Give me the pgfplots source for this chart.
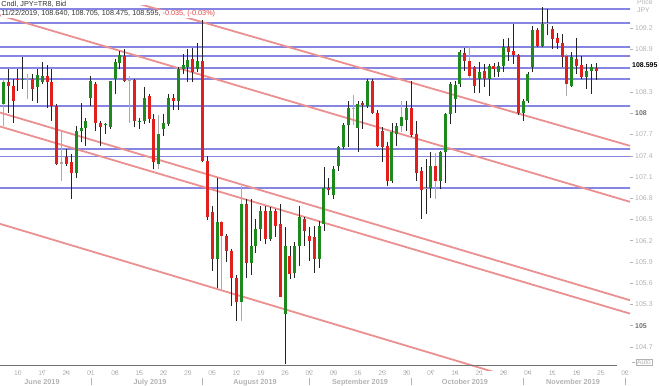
\documentclass[border=0pt]{standalone}
\usepackage{fontspec}
\setmainfont{Liberation Sans}
\usepackage{pgfplots}
\pgfplotsset{compat=1.18}
\usepackage{pgfplotstable}

\definecolor{cup}{HTML}{1E8A1E}
\definecolor{cdn}{HTML}{E0201C}
\definecolor{cgr}{HTML}{A8A8A8}
\definecolor{hline}{HTML}{8686E2}
\definecolor{dline}{HTML}{EA9090}
\definecolor{lbl}{HTML}{B2B2B2}
\definecolor{lbldark}{HTML}{707070}
\definecolor{txtred}{HTML}{E04848}

% i O H L C w   (w: 0 dark wick, 1 grey wick)
\pgfplotstableread{
i O H L C w
-3 108.13 108.48 107.82 108.44 1
1 108.47 108.80 108.34 108.49 0
4 108.37 108.62 108.15 108.54 0
5 108.44 108.72 108.41 108.53 0
12 107.16 107.82 107.09 107.75 0
13 107.75 108.15 107.59 107.79 0
14 107.79 107.94 107.54 107.89 0
15 108.21 108.53 108.11 108.45 0
18 107.83 107.87 107.71 107.845 0
19 107.80 108.46 107.78 108.45 0
20 108.48 108.77 108.27 108.72 0
21 108.71 108.88 108.62 108.82 0
25 107.88 107.94 107.78 107.895 0
26 107.89 108.37 107.85 108.22 0
29 107.28 107.97 107.21 107.71 1
30 107.78 107.99 107.68 107.86 0
31 107.85 108.27 107.82 108.22 0
33 108.18 108.65 108.04 108.62 0
34 108.62 108.84 108.55 108.68 0
35 108.65 108.91 108.44 108.76 0
37 108.62 109.00 108.58 108.74 0
41 105.94 107.09 105.54 106.47 0
46 105.33 106.98 105.07 106.72 1
48 105.89 106.79 105.71 106.12 0
49 106.12 106.51 106.03 106.36 0
50 106.36 106.69 106.20 106.62 0
52 106.22 106.67 106.20 106.62 0
55 105.16 106.39 104.46 106.13 0
57 105.75 106.18 105.68 106.13 0
58 106.13 106.69 105.85 106.53 0
62 105.94 106.48 105.82 106.41 0
63 106.44 107.24 106.34 106.95 0
65 106.84 107.26 106.79 107.22 0
66 107.26 107.54 107.19 107.52 0
67 107.52 107.86 107.49 107.83 0
68 107.83 108.18 107.52 108.08 0
70 107.79 108.18 107.45 108.13 0
72 108.11 108.48 108.08 108.46 0
77 107.05 107.87 107.02 107.73 0
78 107.71 107.87 107.54 107.82 0
79 107.82 108.18 107.73 107.95 1
80 107.91 108.18 107.75 108.07 0
85 106.95 107.46 106.81 107.26 0
87 107.05 107.47 106.93 107.45 0
88 107.45 108.01 107.02 107.99 0
89 107.99 108.44 107.85 108.41 0
90 108.20 108.45 108.01 108.40 0
91 108.41 108.90 108.37 108.86 0
95 108.49 108.72 108.29 108.59 0
97 108.49 108.69 108.25 108.67 0
99 108.58 108.72 108.51 108.67 0
100 108.67 109.05 108.58 108.93 0
104 108.01 108.20 107.89 108.18 0
105 108.18 108.58 108.15 108.55 0
106 108.65 109.24 108.58 109.18 0
108 108.95 109.50 108.93 109.26 0
114 108.39 108.86 108.37 108.79 0
117 108.51 108.69 108.34 108.60 0
118 108.60 108.69 108.27 108.65 0
}\up

\pgfplotstableread{
i O H L C w
-2 108.44 108.62 108.01 108.38 0
-1 108.39 108.48 107.87 108.18 0
0 108.49 108.62 108.32 108.47 0
3 108.48 108.55 108.18 108.35 0
6 108.53 108.68 108.08 108.44 0
7 108.44 108.62 107.89 108.11 0
8 108.10 108.13 107.27 107.28 0
10 107.38 107.49 107.26 107.28 0
11 107.31 107.42 106.79 107.16 0
16 108.42 108.44 107.75 107.86 0
17 107.87 107.89 107.54 107.81 0
22 108.81 108.91 108.44 108.46 0
24 108.47 108.48 107.80 107.89 0
27 108.25 108.27 107.87 107.92 0
28 107.92 107.99 107.21 107.31 0
32 108.21 108.27 108.04 108.17 0
36 108.77 108.92 108.44 108.59 0
38 108.74 109.32 107.31 107.33 0
39 107.33 107.40 106.50 106.53 0
40 106.60 106.69 105.78 105.94 0
42 106.47 106.48 105.52 106.27 1
43 106.27 106.29 105.90 106.06 0
44 106.06 106.08 105.28 105.68 0
45 105.68 105.71 105.07 105.33 0
47 106.72 106.79 105.67 105.89 0
51 106.62 106.69 106.15 106.22 0
53 106.62 106.65 106.25 106.41 0
54 106.43 106.72 105.40 105.40 0
56 105.99 106.13 105.66 105.73 0
59 106.51 106.53 106.13 106.34 0
60 106.27 106.39 105.92 106.20 0
61 106.25 106.41 105.75 105.94 0
64 106.95 107.09 106.84 106.91 0
71 108.14 108.18 107.78 108.12 0
73 108.46 108.48 107.99 108.01 0
74 108.01 108.04 107.52 107.54 0
75 107.75 107.80 107.31 107.52 0
76 107.54 107.59 106.98 107.05 0
81 108.07 108.45 107.67 107.69 0
82 107.71 107.89 107.05 107.16 0
83 107.19 107.24 106.51 106.92 0
86 107.26 107.44 106.79 107.05 1
92 108.85 108.92 108.60 108.74 0
93 108.74 108.93 108.48 108.53 1
94 108.65 108.67 108.29 108.39 0
96 108.60 108.69 108.37 108.48 0
98 108.67 108.71 108.51 108.63 0
101 108.93 109.07 108.74 108.87 0
102 108.88 109.26 108.69 108.82 0
103 108.82 108.84 107.97 108.01 0
107 109.18 109.21 108.93 108.95 0
110 109.19 109.24 108.91 109.05 0
111 109.06 109.14 108.91 109.00 0
112 109.00 109.12 108.65 108.79 0
113 108.81 108.84 108.25 108.41 1
115 108.77 109.07 108.55 108.67 0
116 108.68 108.81 108.48 108.51 0
119 108.640 108.705 108.475 108.595 0
}\dn

\pgfplotstableread{
i O H L C w
2 108.50 108.55 108.20 108.485 1
9 107.29 107.73 107.05 107.31 1
23 108.46 108.52 107.87 108.475 1
69 108.08 108.26 107.83 108.065 1
84 106.95 107.35 106.58 106.935 0
109 109.27 109.48 109.10 109.255 0
}\gr

\begin{document}
\begin{tikzpicture}[x=1bp,y=1bp]
\path[use as bounding box] (0,0) rectangle (660,385);
\begin{axis}[
  at={(0,20)}, anchor=south west,
  scale only axis, width=630bp, height=365bp,
  xmin=-3.685, xmax=126.0, ymin=104.363, ymax=109.518,
  axis line style={draw=none},
  xtick={0,5,...,125},
  xticklabels={10,17,24,01,08,15,22,29,05,12,19,26,02,09,16,23,30,07,14,21,28,04,11,18,25,02},
  xtick pos=bottom, ytick pos=right, yticklabel pos=right,
  tick align=outside, major tick length=2.5bp,
  tick style={draw=lbl, line width=0.6bp},
  xticklabel style={font=\fontsize{6.8}{7}\selectfont, text=lbl, inner sep=0pt, anchor=north, yshift=2.5bp},
  ytick={104.7,105,105.3,105.6,105.9,106.2,106.5,106.8,107.1,107.4,107.7,108,108.3,108.9,109.2},
  yticklabels={104.7,{\color{lbldark}\bfseries 105},105.3,105.6,105.9,106.2,106.5,106.8,107.1,107.4,107.7,{\color{lbldark}\bfseries 108},108.3,108.9,109.2},
  yticklabel style={font=\fontsize{7}{7}\selectfont, text=lbl, inner sep=0pt, anchor=west, xshift=2.5bp},
  colormap={wk}{rgb255=(35,35,35) rgb255=(170,170,170)},
  point meta min=0, point meta max=1,
]
% horizontal support/resistance lines
\addplot[hline, line width=1.8bp] coordinates {(-5,109.47) (127,109.47)};
\addplot[hline, line width=1.8bp] coordinates {(-5,109.27) (127,109.27)};
\addplot[hline, line width=1.8bp] coordinates {(-5,108.94) (127,108.94)};
\addplot[hline, line width=1.8bp] coordinates {(-5,108.81) (127,108.81)};
\addplot[hline, line width=1.8bp] coordinates {(-5,108.64) (127,108.64)};
\addplot[hline, line width=1.8bp] coordinates {(-5,108.48) (127,108.48)};
\addplot[hline, line width=1.8bp] coordinates {(-5,108.10) (127,108.10)};
\addplot[hline, line width=1.8bp] coordinates {(-5,107.50) (127,107.50)};
\addplot[hline, line width=1.8bp] coordinates {(-5,107.39) (127,107.39)};
\addplot[hline, line width=1.8bp] coordinates {(-5,106.95) (127,106.95)};
% descending channel lines
\addplot[dline, line width=1.8bp] coordinates {(-3.685,110.114) (126.0,107.541)};
\addplot[dline, line width=1.8bp] coordinates {(-3.685,109.384) (126.0,106.750)};
\addplot[dline, line width=1.8bp] coordinates {(-3.685,108.011) (126.0,105.360)};
\addplot[dline, line width=1.8bp] coordinates {(-3.685,107.814) (126.0,105.171)};
\addplot[dline, line width=1.8bp] coordinates {(-3.685,106.439) (126.0,103.770)};
% wicks
\addplot[quiver={u=0, v=\thisrow{H}-\thisrow{L}, colored=mapped color}, line width=0.9bp, point meta=explicit] table[x=i, y=L, meta=w] {\up};
\addplot[quiver={u=0, v=\thisrow{H}-\thisrow{L}, colored=mapped color}, line width=0.9bp, point meta=explicit] table[x=i, y=L, meta=w] {\dn};
\addplot[quiver={u=0, v=\thisrow{H}-\thisrow{L}, colored=mapped color}, line width=0.9bp, point meta=explicit] table[x=i, y=L, meta=w] {\gr};
% bodies
\addplot[quiver={u=0, v=\thisrow{C}-\thisrow{O}}, draw=cup, line width=3bp, line cap=butt] table[x=i, y=O] {\up};
\addplot[quiver={u=0, v=\thisrow{C}-\thisrow{O}}, draw=cdn, line width=3bp, line cap=butt] table[x=i, y=O] {\dn};
\addplot[quiver={u=0, v=\thisrow{C}-\thisrow{O}}, draw=cgr, line width=3bp, line cap=butt] table[x=i, y=O] {\gr};
\end{axis}
% bottom axis line
\draw[black!55, line width=0.8bp] (0,20) -- (617,20);
% month separators and labels
\foreach \xx in {90.8,202.5,309.4,411.4,523.1,625.1} {\draw[lbl, line width=0.6bp] (\xx,0.5) -- (\xx,7);}
\begin{scope}[every node/.style={font=\fontsize{7.3}{8}\selectfont\bfseries, text=lbl, inner sep=0pt, anchor=base}]
\node at (42,0.8) {June 2019};
\node at (150,0.8) {July 2019};
\node at (255,0.8) {August 2019};
\node at (360,0.8) {September 2019};
\node at (465,0.8) {October 2019};
\node at (573,0.8) {November 2019};
\end{scope}
% header text
\node[anchor=base west, fill=white, inner sep=0.7bp, font=\fontsize{7.3}{8}\selectfont, text=black!80] at (0.5,378.5) {Cndl, JPY=TR8, Bid};
\node[anchor=base west, fill=white, inner sep=0.7bp, font=\fontsize{7.3}{8}\selectfont, text=black!80] at (0.5,369.3) {11/22/2019, 108.640, 108.705, 108.475, 108.595, \textcolor{txtred}{-0.035, (-0.03\%)}};
% right-side labels
\node[anchor=west, inner sep=0pt, font=\fontsize{6.8}{7}\selectfont, text=lbl] at (637,383) {Price};
\node[anchor=west, inner sep=0pt, font=\fontsize{6.8}{7}\selectfont, text=lbl] at (637,374.5) {JPY};
\node[anchor=west, inner sep=0pt, font=\fontsize{7}{8}\selectfont\bfseries, text=black] at (632,320) {108.595};
\node[anchor=west, draw=lbl, line width=0.5bp, inner sep=0.8bp, font=\fontsize{6.8}{7}\selectfont, text=lbl] at (636,23) {Auto};
\draw[lbl, line width=0.6bp] (632,23) -- (635,23);
\end{tikzpicture}
\end{document}
